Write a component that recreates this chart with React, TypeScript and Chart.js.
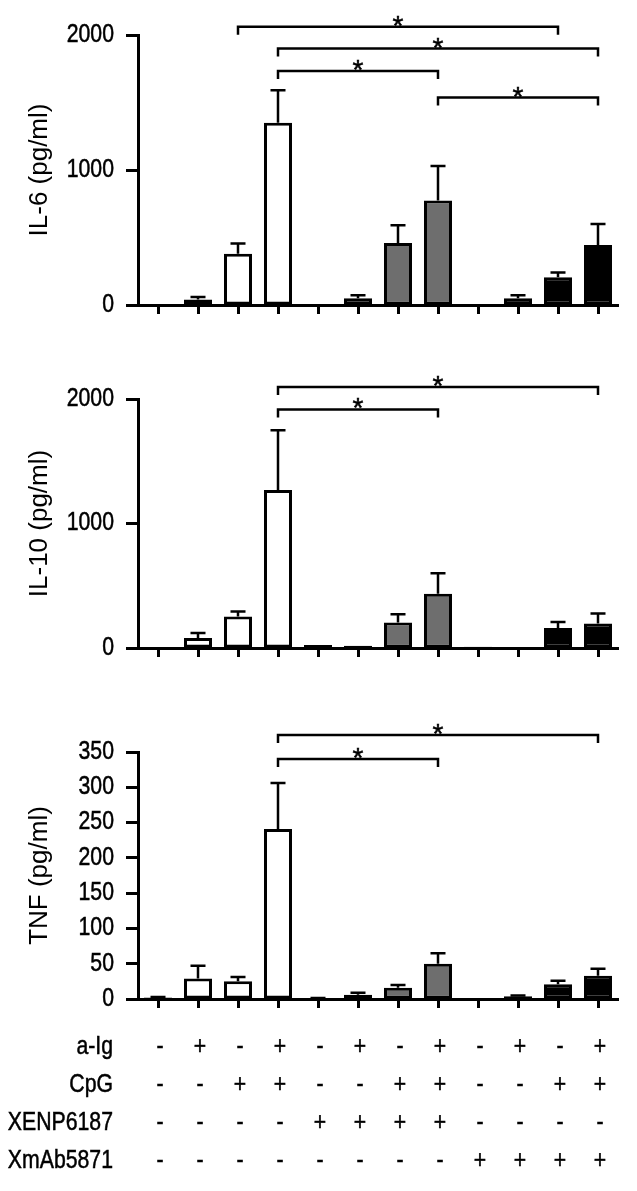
import React, { useEffect, useRef } from 'react';
import { Chart, registerables } from 'chart.js';

Chart.register(...registerables);

// ---------- data ----------
const categories = ['1', '2', '3', '4', '5', '6', '7', '8', '9', '10', '11', '12'];
const barColors = [
  '#ffffff', '#ffffff', '#ffffff', '#ffffff',
  '#6e6e6e', '#6e6e6e', '#6e6e6e', '#6e6e6e',
  '#000000', '#000000', '#000000', '#000000',
];

const il6Values = [0, 40, 380, 1350, 8, 50, 460, 775, 0, 50, 205, 445];
const il6Errors = [0, 20, 75, 240, 0, 22, 130, 255, 0, 22, 35, 155];
const il6Brackets = [
  [2, 10, 2061],
  [3, 11, 1900],
  [3, 7, 1734],
  [7, 11, 1537],
];

const il10Values = [8, 80, 253, 1270, 25, 18, 205, 435, 10, 8, 160, 197];
const il10Errors = [0, 40, 40, 480, 0, 0, 67, 165, 0, 0, 48, 80];
const il10Brackets = [
  [3, 11, 2097],
  [3, 7, 1916],
];

const tnfValues = [2, 29, 25, 241, 1, 6, 16, 50, 0, 4, 21, 33];
const tnfErrors = [1, 18, 6, 65, 0.5, 3, 4, 15, 0, 1, 5, 10];
const tnfBrackets = [
  [3, 11, 374],
  [3, 7, 340],
];

const tableLabels = ['a-Ig', 'CpG', 'XENP6187', 'XmAb5871'];
const aIgRow = [0, 1, 0, 1, 0, 1, 0, 1, 0, 1, 0, 1];
const cpgRow = [0, 0, 1, 1, 0, 0, 1, 1, 0, 0, 1, 1];
const xenpRow = [0, 0, 0, 0, 1, 1, 1, 1, 0, 0, 0, 0];
const xmabRow = [0, 0, 0, 0, 0, 0, 0, 0, 1, 1, 1, 1];
const tableRows = [aIgRow, cpgRow, xenpRow, xmabRow];

const FONT = "'Liberation Sans', Arial, Helvetica, sans-serif";
const TEXT_SIZE = 25;
const SQUEEZE = 0.85;

function drawSqueezed(
  ctx: CanvasRenderingContext2D,
  text: string,
  x: number,
  y: number,
  align: CanvasTextAlign,
  baseline: CanvasTextBaseline,
  size = TEXT_SIZE,
  squeeze = SQUEEZE,
) {
  ctx.save();
  ctx.translate(x, y);
  ctx.scale(squeeze, 1);
  ctx.font = `${size}px ${FONT}`;
  ctx.textAlign = align;
  ctx.textBaseline = baseline;
  ctx.fillStyle = '#000';
  ctx.strokeStyle = '#000';
  ctx.lineWidth = 0.5;
  ctx.fillText(text, 0, 0);
  ctx.strokeText(text, 0, 0);
  ctx.restore();
}

// ---------- plugins ----------
const errorBarsPlugin = {
  id: 'errorBars',
  afterDatasetsDraw(chart: any, _args: any, opts: any) {
    const errs: number[] = opts.errors || [];
    const { ctx } = chart;
    const meta = chart.getDatasetMeta(0);
    const ys = chart.scales.y;
    const vals = chart.data.datasets[0].data as number[];
    ctx.save();
    ctx.strokeStyle = '#000';
    ctx.lineWidth = 2.5;
    meta.data.forEach((bar: any, i: number) => {
      const e = errs[i];
      if (!e) return;
      const y0 = ys.getPixelForValue(vals[i]);
      const y1 = ys.getPixelForValue(vals[i] + e);
      ctx.beginPath();
      ctx.moveTo(bar.x, y0);
      ctx.lineTo(bar.x, y1);
      ctx.moveTo(bar.x - 7.5, y1);
      ctx.lineTo(bar.x + 7.5, y1);
      ctx.stroke();
    });
    ctx.restore();
  },
};

const bracketsPlugin = {
  id: 'brackets',
  afterDraw(chart: any, _args: any, opts: any) {
    const list: number[][] = opts.list || [];
    const { ctx } = chart;
    const xs = chart.scales.x;
    const ys = chart.scales.y;
    ctx.save();
    ctx.strokeStyle = '#000';
    ctx.lineWidth = 2.5;
    list.forEach(([a, b, v]) => {
      const xa = xs.getPixelForValue(a);
      const xb = xs.getPixelForValue(b);
      const y = ys.getPixelForValue(v);
      ctx.beginPath();
      ctx.moveTo(xa, y + 8);
      ctx.lineTo(xa, y);
      ctx.lineTo(xb, y);
      ctx.lineTo(xb, y + 8);
      ctx.stroke();
      drawSqueezed(ctx, '*', (xa + xb) / 2, y + 8, 'center', 'alphabetic', 28, 1);
    });
    ctx.restore();
  },
};

const yLabelsPlugin = {
  id: 'yLabels',
  afterDraw(chart: any) {
    const { ctx, chartArea } = chart;
    const ys = chart.scales.y;
    ys.ticks.forEach((t: any) => {
      drawSqueezed(ctx, String(t.value), chartArea.left - 24, ys.getPixelForValue(t.value), 'right', 'middle');
    });
  },
};

const tablePlugin = {
  id: 'conditionTable',
  afterDraw(chart: any, _args: any, opts: any) {
    if (!opts.show) return;
    const { ctx, chartArea } = chart;
    const xs = chart.scales.x;
    const rowOffsets = [48, 86, 124, 162];
    tableLabels.forEach((label, r) => {
      const y = chartArea.bottom + rowOffsets[r];
      drawSqueezed(ctx, label, chartArea.left - 25, y, 'right', 'middle');
      tableRows[r].forEach((on, i) => {
        drawSqueezed(ctx, on ? '+' : '-', xs.getPixelForValue(i) + 2, y, 'center', 'middle');
      });
    });
  },
};

// ---------- panel ----------
type PanelProps = {
  top: number;
  height: number;
  areaTop: number;
  areaBottom: number;
  values: number[];
  errors: number[];
  brackets: number[][];
  max: number;
  step: number;
  title: string;
  showTable?: boolean;
};

function Panel(p: PanelProps) {
  const ref = useRef<HTMLCanvasElement>(null);
  useEffect(() => {
    if (!ref.current) return;
    const chart = new Chart(ref.current, {
      type: 'bar',
      data: {
        labels: categories,
        datasets: [
          {
            data: p.values,
            backgroundColor: barColors,
            borderColor: '#000',
            borderWidth: 3,
            borderSkipped: false,
            barPercentage: 0.7,
            categoryPercentage: 1.0,
          },
        ],
      },
      options: {
        responsive: false,
        animation: false,
        devicePixelRatio: 1,
        layout: {
          padding: { top: p.areaTop, left: 0, right: 19, bottom: p.height - p.areaBottom - 20 },
        },
        plugins: {
          legend: { display: false },
          tooltip: { enabled: false },
          errorBars: { errors: p.errors },
          brackets: { list: p.brackets },
          conditionTable: { show: !!p.showTable },
        } as any,
        scales: {
          x: {
            offset: true,
            grid: {
              display: true,
              offset: false,
              drawOnChartArea: false,
              drawTicks: true,
              tickLength: 9,
              tickWidth: 3,
              tickColor: '#000',
            },
            border: { display: true, color: '#000', width: 3 },
            ticks: { display: false },
            afterFit: (s: any) => {
              s.height = 20;
            },
          },
          y: {
            min: 0,
            max: p.max,
            ticks: {
              stepSize: p.step,
              display: false,
            },
            grid: {
              display: true,
              drawOnChartArea: false,
              drawTicks: true,
              tickLength: 12,
              tickWidth: 3,
              tickColor: '#000',
            },
            border: { display: true, color: '#000', width: 3 },
            title: {
              display: true,
              text: p.title,
              color: '#000',
              font: { family: FONT, size: 26 },
              padding: { top: 24, bottom: 0 },
            },
            afterFit: (s: any) => {
              s.width = 138;
            },
          },
        },
      } as any,
      plugins: [errorBarsPlugin, bracketsPlugin, yLabelsPlugin, tablePlugin],
    });
    return () => chart.destroy();
  }, []);
  return (
    <canvas
      ref={ref}
      width={637}
      height={p.height}
      style={{ position: 'absolute', left: 0, top: p.top, width: 637, height: p.height }}
    />
  );
}

export default function App() {
  return (
    <div
      style={{
        position: 'absolute',
        left: 0,
        top: 0,
        width: 637,
        height: 1191,
        background: '#fff',
        overflow: 'hidden',
      }}
    >
      <Panel
        top={0}
        height={330}
        areaTop={35}
        areaBottom={305}
        values={il6Values}
        errors={il6Errors}
        brackets={il6Brackets}
        max={2000}
        step={1000}
        title="IL-6 (pg/ml)"
      />
      <Panel
        top={340}
        height={330}
        areaTop={59}
        areaBottom={308}
        values={il10Values}
        errors={il10Errors}
        brackets={il10Brackets}
        max={2000}
        step={1000}
        title="IL-10 (pg/ml)"
      />
      <Panel
        top={680}
        height={511}
        areaTop={72}
        areaBottom={319}
        values={tnfValues}
        errors={tnfErrors}
        brackets={tnfBrackets}
        max={350}
        step={50}
        title="TNF (pg/ml)"
        showTable
      />
    </div>
  );
}
